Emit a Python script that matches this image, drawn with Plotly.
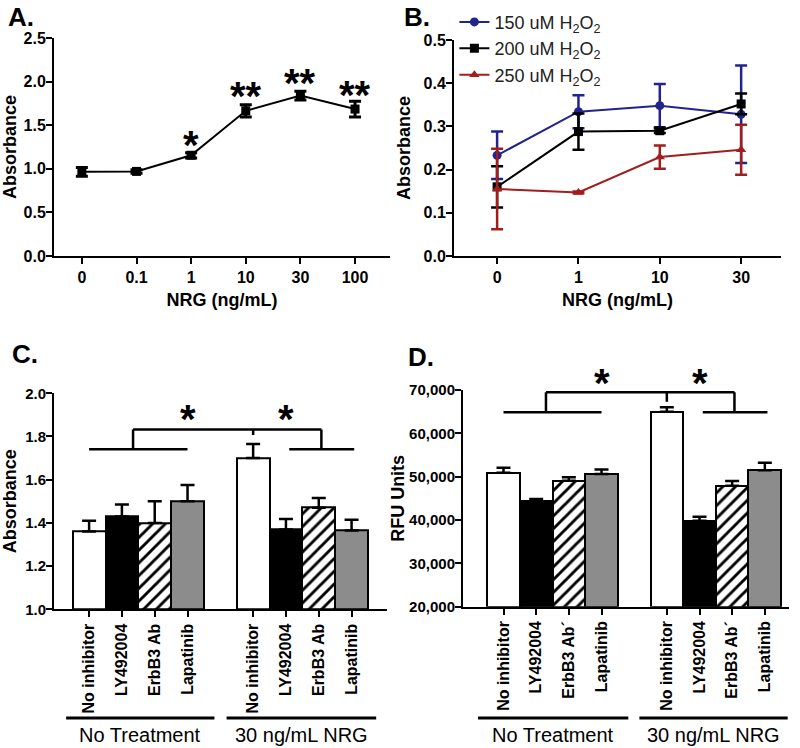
import plotly.graph_objects as go

FONT = "Liberation Sans, Arial, sans-serif"

# ---------- Panel A ----------
a_doses = ["0", "0.1", "1", "10", "30", "100"]
a_abs = [0.965, 0.97, 1.155, 1.665, 1.84, 1.685]
a_err = [0.05, 0.02, 0.03, 0.07, 0.05, 0.09]
a_stars = ["", "", "*", "**", "**", "**"]
a_star_y = [None, None, 1.34, 1.9, 2.05, 1.91]

# ---------- Panel B ----------
b_doses = ["0", "1", "10", "30"]
b_series = ["150 uM H<sub>2</sub>O<sub>2</sub>", "200 uM H<sub>2</sub>O<sub>2</sub>", "250 uM H<sub>2</sub>O<sub>2</sub>"]
b_150 = [0.233, 0.334, 0.348, 0.328]
b_150_err = [0.055, 0.038, 0.05, 0.113]
b_200 = [0.160, 0.288, 0.290, 0.352]
b_200_err = [0.048, 0.042, 0.005, 0.024]
b_250 = [0.155, 0.147, 0.229, 0.246]
b_250_err = [0.093, 0.002, 0.027, 0.058]

# ---------- Panels C & D ----------
inhibitors = ["No inhibitor", "LY492004", "ErbB3 Ab", "Lapatinib"]
inhibitors_d = ["No inhibitor", "LY492004", "ErbB3 Ab´", "Lapatinib"]
groups = ["No Treatment", "30 ng/mL NRG"]
# order: No Treatment (4 inhibitors), then 30 ng/mL NRG (4 inhibitors)
c_abs = [1.36, 1.43, 1.40, 1.50, 1.70, 1.37, 1.47, 1.365]
c_err = [0.05, 0.055, 0.10, 0.075, 0.065, 0.048, 0.045, 0.05]
d_rfu = [50900, 44400, 49050, 50600, 65000, 39850, 47900, 51500]
d_err = [1150, 450, 800, 1050, 1000, 900, 1100, 1700]
c_star_y = 1.91
d_star_y = 73000

bar_pos = [0, 1, 2, 3, 5, 6, 7, 8]
inh_colors = ["white", "black", "white", "#8c8c8c"]
inh_patterns = ["", "", "/", ""]

STAR_SHIFT = -6

fig = go.Figure()

# Panel A
a_x = list(range(len(a_doses)))
fig.add_trace(go.Scatter(
    x=a_x, y=a_abs, mode="lines+markers", xaxis="x", yaxis="y",
    line=dict(color="black", width=2),
    marker=dict(symbol="square", size=9, color="black"),
    error_y=dict(type="data", array=a_err, color="black", thickness=3, width=6),
    showlegend=False, cliponaxis=False))
for xi, s, sy in zip(a_x, a_stars, a_star_y):
    if s:
        fig.add_annotation(x=xi, y=sy, xref="x", yref="y", text=s, showarrow=False,
                           font=dict(size=40, family=FONT, color="black", weight="bold"),
                           yanchor="middle", yshift=STAR_SHIFT)

# Panel B
b_x = list(range(len(b_doses)))
b_cols = ["#23238c", "black", "#a01e1e"]
b_syms = ["circle", "square", "triangle-up"]
for name, vals, errs, col, sym in zip(b_series, [b_150, b_200, b_250],
                                      [b_150_err, b_200_err, b_250_err], b_cols, b_syms):
    fig.add_trace(go.Scatter(
        x=b_x, y=vals, mode="lines+markers", name=name, xaxis="x2", yaxis="y2",
        line=dict(color=col, width=2),
        marker=dict(symbol=sym, size=9, color=col),
        error_y=dict(type="data", array=errs, color=col, thickness=2.5, width=6),
        cliponaxis=False))

# Panels C and D: one bar trace per inhibitor style
for vals, errs, base, xa, ya in [(c_abs, c_err, 1.0, "x3", "y3"), (d_rfu, d_err, 20000, "x4", "y4")]:
    for k in range(4):
        idx = [k, k + 4]
        marker = dict(color=inh_colors[k], line=dict(color="black", width=2))
        if inh_patterns[k]:
            marker["pattern"] = dict(shape=inh_patterns[k], fgcolor="black", bgcolor="white",
                                     size=9, solidity=0.32, fillmode="replace")
        fig.add_trace(go.Bar(
            x=[bar_pos[i] for i in idx], y=[vals[i] - base for i in idx], base=base,
            width=1.0, xaxis=xa, yaxis=ya, marker=marker,
            error_y=dict(type="data", array=[errs[i] for i in idx], arrayminus=[0, 0],
                         symmetric=False, color="black", thickness=2.5, width=7),
            showlegend=False))

tickf = dict(family=FONT, size=16, color="black", weight="bold")
tickf_small = dict(family=FONT, size=15, color="black", weight="bold")
titlef = dict(family=FONT, size=18, color="black", weight="bold")
ax_common = dict(showline=True, linewidth=2, linecolor="black", ticks="outside",
                 ticklen=6, tickwidth=2, tickcolor="black", showgrid=False,
                 zeroline=False, fixedrange=True, automargin=False)

fig.update_layout(
    template="none",
    width=800, height=748, margin=dict(l=0, r=0, t=0, b=0, autoexpand=False),
    paper_bgcolor="white", plot_bgcolor="white",
    font=dict(family=FONT, color="black"),
    xaxis=dict(domain=[0.0675, 0.4875], anchor="y", range=[-0.51, 5.64],
               tickvals=a_x, ticktext=a_doses, tickfont=tickf,
               title=dict(text="NRG (ng/mL)", font=titlef, standoff=8), **ax_common),
    yaxis=dict(domain=[0.6578, 0.9492], anchor="x", range=[0, 2.5], dtick=0.5,
               tickformat=".1f", tickfont=tickf, ticklabelstandoff=-3,
               title=dict(text="Absorbance", font=titlef, standoff=8), **ax_common),
    xaxis2=dict(domain=[0.5675, 0.97625], anchor="y2", range=[-0.53, 3.49],
                tickvals=b_x, ticktext=b_doses, tickfont=tickf,
                title=dict(text="NRG (ng/mL)", font=titlef, standoff=8), **ax_common),
    yaxis2=dict(domain=[0.6578, 0.9465], anchor="x2", range=[0, 0.5], dtick=0.1,
                tickformat=".1f", tickfont=tickf, ticklabelstandoff=-3,
                title=dict(text="Absorbance", font=titlef, standoff=8), **ax_common),
    xaxis3=dict(domain=[0.0675, 0.48375], anchor="y3", range=[-1.07, 9.08],
                tickvals=bar_pos, ticktext=inhibitors * 2, tickangle=-90, tickfont=tickf,
                **ax_common),
    yaxis3=dict(domain=[0.1854, 0.4742], anchor="x3", range=[1.0, 2.0], dtick=0.2,
                tickformat=".1f", tickfont=tickf_small, ticklabelstandoff=-3,
                title=dict(text="Absorbance", font=titlef, standoff=6), **ax_common),
    xaxis4=dict(domain=[0.57875, 0.98625], anchor="y4", range=[-1.24, 8.74],
                tickvals=bar_pos, ticktext=inhibitors_d * 2, tickangle=-90, tickfont=tickf,
                **ax_common),
    yaxis4=dict(domain=[0.1889, 0.4786], anchor="x4", range=[20000, 70000], dtick=10000,
                tickformat=",", tickfont=tickf_small, ticklabelstandoff=-3,
                title=dict(text="RFU Units", font=titlef, standoff=0), **ax_common),
    legend=dict(x=0.568, y=0.995, xanchor="left", yanchor="top",
                font=dict(family=FONT, size=18, color="#222222"),
                bgcolor="rgba(0,0,0,0)", itemwidth=30, tracegroupgap=0),
    bargap=0, barmode="overlay",
)

# Panel letters
for txt, px, py in [("A.", 0.008, 1.0), ("B.", 0.502, 1.0), ("C.", 0.013, 0.55), ("D.", 0.507, 0.546)]:
    fig.add_annotation(x=px, y=py, xref="paper", yref="paper", text=txt, showarrow=False,
                       xanchor="left", yanchor="top",
                       font=dict(size=26, family=FONT, color="black", weight="bold"))

# Significance brackets (C and D)
def bracket(xr, yr, rng, low, high, mid_low, left_x, right_x, star_y):
    lw = 2.5
    segs = [
        (0, 3, low, low), (left_x, left_x, low, high), (left_x, right_x, high, high),
        (right_x, right_x, high, low), (6.1, 8.08, low, low), (5, 5, high, mid_low),
    ]
    for x0, x1, y0, y1 in segs:
        fig.add_shape(type="line", xref=xr, yref=yr, x0=x0, x1=x1, y0=y0, y1=y1,
                      line=dict(color="black", width=lw))
    sy = (star_y - rng[0]) / (rng[1] - rng[0])
    for sx in (3, 6):
        fig.add_annotation(x=sx, y=sy, xref=xr, yref=yr + " domain", text="*", showarrow=False,
                           font=dict(size=40, family=FONT, color="black", weight="bold"),
                           yanchor="middle", yshift=STAR_SHIFT)

bracket("x3", "y3", (1.0, 2.0), 1.741, 1.833, 1.807, 1.34, 7.08, c_star_y)
bracket("x4", "y4", (20000, 70000), 64850, 69460, 67300, 1.30, 7.07, d_star_y)

# Group underlines and labels
for xr, spans in [("x3", [(-0.70, 3.82), (4.19, 8.75)]), ("x4", [(-0.78, 3.82), (4.16, 8.70)])]:
    for (x0, x1), g in zip(spans, groups):
        fig.add_shape(type="line", xref=xr, yref="paper", x0=x0, x1=x1, y0=0.0401, y1=0.0401,
                      line=dict(color="black", width=3))
        fig.add_annotation(x=(x0 + x1) / 2, y=0.0174, xref=xr, yref="paper", text=g,
                           showarrow=False, yanchor="middle",
                           font=dict(size=20, family=FONT, color="black"))

fig.write_html("out.html", config={"displayModeBar": False},
               post_script="document.body.style.margin='0';document.body.style.padding='0';")
